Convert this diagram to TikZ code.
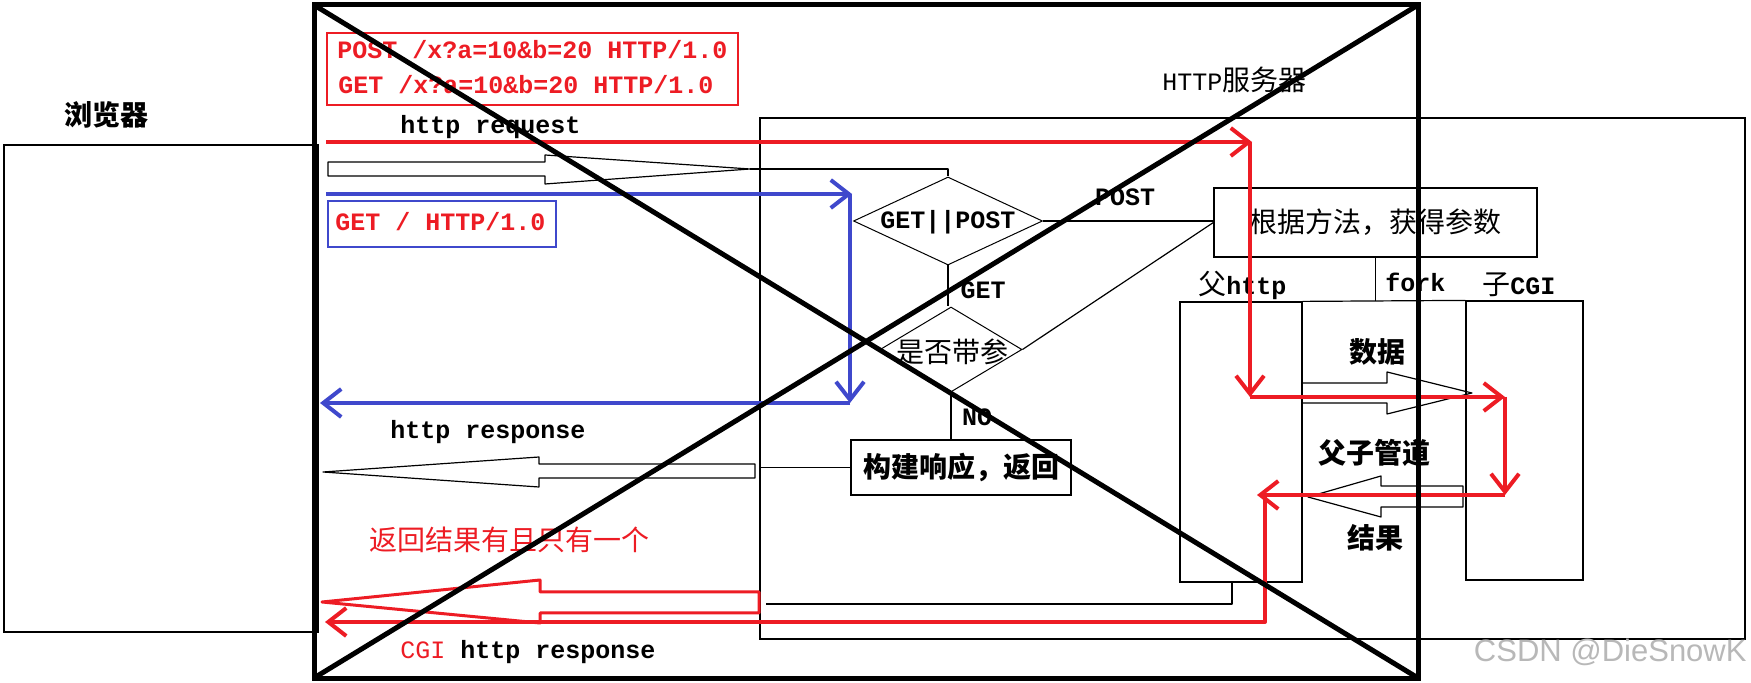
\documentclass[tikz,border=0pt]{standalone}
\usepackage{fontspec}
\usetikzlibrary{arrows.meta,shapes.geometric}
\newfontfamily\cjk{Noto Sans CJK SC}
\newfontfamily\mono{Liberation Mono}
\newfontfamily\wmfont{Liberation Sans}
\definecolor{pred}{RGB}{237,28,36}
\definecolor{pblue}{RGB}{63,72,204}
\newcommand\latxt[1]{{\mono\bfseries\fontsize{12.5}{14}\selectfont #1}}
\tikzset{
  thinline/.style={line width=0.6pt, draw=black, line join=round},
  boxnode/.style={draw=black, line width=0.6pt, inner sep=0pt, rectangle},
  dia/.style={draw=black, line width=0.5pt, diamond, inner sep=0pt},
  latin/.style={font=\mono\bfseries\fontsize{12.5}{14}\selectfont, inner sep=0pt},
  han/.style={font=\cjk\fontsize{14}{16}\selectfont, inner sep=0pt},
  hanbold/.style={font=\cjk\bfseries\fontsize{14}{16}\selectfont, inner sep=0pt},
  redarrow/.style={draw=pred, line width=2pt, line join=round, -{Straight Barb[length=9pt,width=14pt]}},
  bluearrow/.style={draw=pblue, line width=2pt, line join=round, -{Straight Barb[length=9pt,width=14pt]}},
  redhollow/.style={draw=pred, line width=1.5pt, line join=round},
  cross/.style={draw=black, line width=2.5pt}
}
\begin{document}
\begin{tikzpicture}[x=0.5pt,y=-0.5pt]
\useasboundingbox (0,0) rectangle (1751,683);

% ---- boxes ----
\node[boxnode, minimum width=157pt, minimum height=243.5pt] (browser) at (161,388.5) {};
\node[hanbold] (browserlbl) at (106,115) {浏览器};
\node[boxnode, minimum width=492.5pt, minimum height=260.5pt] (server) at (1252.5,378.5) {};
\node[han, anchor=west] (serverlbl) at (1162,80) {\latxt{\mdseries HTTP}服务器};

\node[boxnode, draw=pred, minimum width=205.5pt, minimum height=36pt] (reqbox) at (532.5,69) {};
\node[latin, text=pred, anchor=west] (postline) at (337,50) {POST /x?a=10\&b=20 HTTP/1.0};
\node[latin, text=pred, anchor=west] (getline) at (338,85) {GET /x?a=10\&b=20 HTTP/1.0};

\node[boxnode, draw=pblue, minimum width=114pt, minimum height=23pt] (rootbox) at (442,224) {};
\node[latin, text=pred, anchor=west] (rootline) at (335,222) {GET / HTTP/1.0};

\node[dia, minimum width=94.5pt, minimum height=44pt] (d1) at (948,221) {};
\node[latin] (d1lbl) at (948,222) {GET||POST};
\node[dia, minimum width=71pt, minimum height=42.5pt] (d2) at (951,349.5) {};
\node[han] (d2lbl) at (952,352) {是否带参};

\node[boxnode, han, minimum width=161.5pt, minimum height=34.5pt] (params) at (1375.5,222.5) {根据方法，获得参数};
\node[boxnode, hanbold, minimum width=110pt, minimum height=27.5pt] (build) at (961,467.5) {构建响应，返回};

\node[boxnode, minimum width=61pt, minimum height=140pt] (parent) at (1241,442) {};
\node[boxnode, minimum width=58.5pt, minimum height=139.5pt] (child) at (1524.5,440.5) {};

% ---- flow connectors ----
\coordinate (reqtip) at (750,169);
\draw[thinline] (328,162) -- (545,162) -- (545,155) -- (reqtip) -- (545,184) -- (545,176) -- (328,176) -- cycle;
\draw[thinline] (reqtip) -- (reqtip -| d1.north) -- (d1.north);
\draw[thinline] (d1.east) -- (d1.east -| params.west);
\draw[thinline] (d1.south) -- (d1.south |- d2.north);
\draw[thinline] (d2.east) -- (params.west);
\draw[thinline] (d2.south) -- (d2.south |- build.north);
\draw[thinline] (build.west) -- (build.west -| server.west);
\draw[thinline] (755,464) -- (539,464) -- (539,457) -- (323,472) -- (539,487) -- (539,478) -- (755,478) -- cycle;

\draw[thinline] (params.south) -- (params.south |- parent.north);
\draw[thinline] (parent.north east) -- (child.north west);
\draw[thinline] (1302,383) -- (1387,383) -- (1387,372) -- (1472,393) -- (1387,414) -- (1387,403) -- (1302,403) -- cycle;
\draw[thinline] (1463,486) -- (1381,486) -- (1381,476) -- (1308,497) -- (1381,517) -- (1381,507) -- (1463,507) -- cycle;

\coordinate (pout) at (1232,582);
\coordinate (pbend) at (1232,604);
\coordinate (pend) at (766,604);
\draw[thinline] (pout) -- (pbend) -- (pend);

\draw[redhollow] (759,592) -- (540,592) -- (540,580) -- (322,602) -- (540,623) -- (540,613) -- (759,613) -- cycle;

% ---- labels ----
\node[latin, anchor=west] (reqlbl) at (400,127) {http request};
\node[latin, anchor=west] (resplbl) at (390,432) {http response};
\node[latin, anchor=west] (cgilbl) at (400,652) {\textcolor{pred}{\mdseries CGI} http response};
\node[latin] (postlbl) at (1125,197) {POST};
\node[latin] (getlbl) at (983,290) {GET};
\node[latin] (nolbl) at (977,417) {NO};
\node[han, anchor=west] (parentlbl) at (1198,285) {父\latxt{http}};
\node[latin, anchor=west] (forklbl) at (1385,282) {fork};
\node[han, anchor=west] (childlbl) at (1482,285) {子\latxt{CGI}};
\node[hanbold] (datalbl) at (1377,352) {数据};
\node[hanbold] (pipelbl) at (1374,453) {父子管道};
\node[hanbold] (resultlbl) at (1375,538) {结果};
\node[han, text=pred] (onelbl) at (509,540) {返回结果有且只有一个};

% ---- red route ----
\coordinate (r0) at (326,142);
\coordinate (r1) at (1250,142);
\coordinate (r1t) at (1252,142);
\coordinate (r2) at (1250,397);
\coordinate (r3) at (1505,397);
\coordinate (r4) at (1505,495);
\coordinate (r5) at (1257,495);
\coordinate (r6) at (1265,495);
\coordinate (r7) at (1265,622);
\coordinate (r8) at (325,622);
\draw[redarrow] (r0) -- (r1t);
\draw[redarrow] (r1) -- (r2);
\draw[redarrow] (r2) -- (r3);
\draw[redarrow] (r3) -- (r4);
\draw[redarrow] (r4) -- (r5);
\draw[redarrow] (r6) -- (r7) -- (r8);

% ---- blue route ----
\coordinate (b0) at (326,194);
\coordinate (b1) at (850,194);
\coordinate (b1t) at (852,194);
\coordinate (b2) at (850,403);
\coordinate (b3) at (320,403);
\draw[bluearrow] (b0) -- (b1t);
\draw[bluearrow] (b1) -- (b2);
\draw[bluearrow] (b2) -- (b3);

% ---- big cross ----
\coordinate (xa) at (314,5);
\coordinate (xb) at (1418,5);
\coordinate (xc) at (1418,678);
\coordinate (xd) at (314,678);
\draw[cross] (xa) rectangle (xc);
\draw[cross] (xa) -- (xc);
\draw[cross] (xb) -- (xd);

% ---- watermark ----
\node[font=\wmfont\fontsize{15.5}{17}\selectfont, text=black!28, anchor=east, inner sep=0pt] (wm) at (1747,652) {CSDN @DieSnowK};
\end{tikzpicture}
\end{document}
